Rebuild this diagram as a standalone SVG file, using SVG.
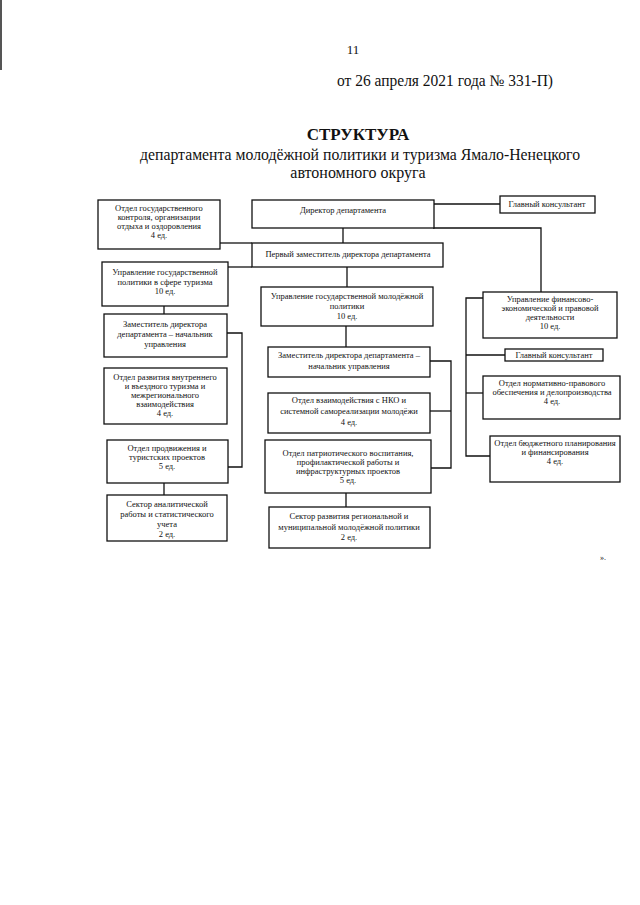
<svg xmlns="http://www.w3.org/2000/svg" width="640" height="905" viewBox="0 0 640 905">
<style>
.box{fill:#fff;stroke:#111;stroke-width:1.3}
.ln{fill:none;stroke:#111;stroke-width:1.3}
.t{font-family:"Liberation Serif","DejaVu Serif",serif;font-size:8.5px;fill:#111;text-anchor:middle}
.h{font-family:"Liberation Serif","DejaVu Serif",serif;fill:#111}
</style>
<rect x="0" y="0" width="640" height="905" fill="#fff"/>
<rect x="0" y="0" width="2" height="70" fill="#555"/>
<g id="header">
<text class="h" x="353" y="54" font-size="13" text-anchor="middle">11</text>
<text class="h" x="337" y="86" font-size="16" textLength="216" lengthAdjust="spacingAndGlyphs">от 26 апреля 2021 года № 331-П)</text>
<text class="h" x="358" y="140" font-size="17" font-weight="bold" text-anchor="middle">СТРУКТУРА</text>
<text class="h" x="360" y="160" font-size="16" text-anchor="middle" textLength="440" lengthAdjust="spacingAndGlyphs">департамента молодёжной политики и туризма Ямало-Ненецкого</text>
<text class="h" x="358" y="178" font-size="16" text-anchor="middle">автономного округа</text>
</g>
<g id="connectors">
<path class="ln" d="M434 204H500"/>
<path class="ln" d="M343 228V243"/>
<path class="ln" d="M220 243H252"/>
<path class="ln" d="M228 267H252"/>
<path class="ln" d="M347 267V287"/>
<path class="ln" d="M433 228H541V292"/>
<path class="ln" d="M164 306V314"/>
<path class="ln" d="M227 333H242V467H228"/>
<path class="ln" d="M164 483V495"/>
<path class="ln" d="M346 326V347"/>
<path class="ln" d="M346 493V507"/>
<path class="ln" d="M430 361H451V468H430"/>
<path class="ln" d="M430 411H451"/>
<path class="ln" d="M483 298H466V456H490"/>
<path class="ln" d="M466 355H505"/>
<path class="ln" d="M466 393H483"/>
</g>
<g id="n_control">
<rect class="box" x="98" y="200" width="122" height="49"/>
<text class="t" x="159" y="211">Отдел государственного</text>
<text class="t" x="159" y="220">контроля, организации</text>
<text class="t" x="159" y="229">отдыха и оздоровления</text>
<text class="t" x="159" y="238">4 ед.</text>
</g>
<g id="n_director">
<rect class="box" x="252" y="200" width="182" height="28"/>
<text class="t" x="343" y="213">Директор департамента</text>
</g>
<g id="n_consult_top">
<rect class="box" x="500" y="196" width="95" height="17"/>
<text class="t" x="547" y="207">Главный консультант</text>
</g>
<g id="n_first_deputy">
<rect class="box" x="252" y="243" width="191" height="24"/>
<text class="t" x="348" y="257">Первый заместитель директора департамента</text>
</g>
<g id="n_tourism_admin">
<rect class="box" x="102" y="262" width="126" height="44"/>
<text class="t" x="165" y="275">Управление государственной</text>
<text class="t" x="165" y="285">политики в сфере туризма</text>
<text class="t" x="165" y="294">10 ед.</text>
</g>
<g id="n_tourism_deputy">
<rect class="box" x="104" y="314" width="123" height="43"/>
<text class="t" x="165" y="327">Заместитель директора</text>
<text class="t" x="165" y="337">департамента – начальник</text>
<text class="t" x="165" y="347">управления</text>
</g>
<g id="n_tourism_dev">
<rect class="box" x="104" y="368" width="123" height="56"/>
<text class="t" x="165" y="380">Отдел развития внутреннего</text>
<text class="t" x="165" y="389">и въездного туризма и</text>
<text class="t" x="165" y="398">межрегионального</text>
<text class="t" x="165" y="407">взаимодействия</text>
<text class="t" x="165" y="416">4 ед.</text>
</g>
<g id="n_tourism_promo">
<rect class="box" x="107" y="440" width="121" height="43"/>
<text class="t" x="167" y="451">Отдел продвижения и</text>
<text class="t" x="167" y="460">туристских проектов</text>
<text class="t" x="167" y="469">5 ед.</text>
</g>
<g id="n_analytics">
<rect class="box" x="107" y="495" width="120" height="46"/>
<text class="t" x="167" y="507">Сектор аналитической</text>
<text class="t" x="167" y="517">работы и статистического</text>
<text class="t" x="167" y="527">учета</text>
<text class="t" x="167" y="537">2 ед.</text>
</g>
<g id="n_youth_admin">
<rect class="box" x="261" y="287" width="172" height="39"/>
<text class="t" x="347" y="299">Управление государственной молодёжной</text>
<text class="t" x="347" y="309">политики</text>
<text class="t" x="347" y="319">10 ед.</text>
</g>
<g id="n_youth_deputy">
<rect class="box" x="268" y="347" width="162" height="30"/>
<text class="t" x="349" y="358">Заместитель директора департамента –</text>
<text class="t" x="349" y="369">начальник управления</text>
</g>
<g id="n_nko">
<rect class="box" x="268" y="393" width="162" height="40"/>
<text class="t" x="349" y="403">Отдел взаимодействия с НКО и</text>
<text class="t" x="349" y="414">системной самореализации молодёжи</text>
<text class="t" x="349" y="425">4 ед.</text>
</g>
<g id="n_patriot">
<rect class="box" x="265" y="440" width="166" height="53"/>
<text class="t" x="348" y="456">Отдел патриотического воспитания,</text>
<text class="t" x="348" y="465">профилактической работы и</text>
<text class="t" x="348" y="474">инфраструктурных проектов</text>
<text class="t" x="348" y="483">5 ед.</text>
</g>
<g id="n_regional">
<rect class="box" x="269" y="507" width="161" height="41"/>
<text class="t" x="349" y="519">Сектор развития региональной и</text>
<text class="t" x="349" y="530">муниципальной молодёжной политики</text>
<text class="t" x="349" y="540">2 ед.</text>
</g>
<g id="n_finance">
<rect class="box" x="483" y="292" width="134" height="46"/>
<text class="t" x="550" y="302">Управление финансово-</text>
<text class="t" x="550" y="311">экономической и правовой</text>
<text class="t" x="550" y="320">деятельности</text>
<text class="t" x="550" y="329">10 ед.</text>
</g>
<g id="n_consult_fin">
<rect class="box" x="505" y="349" width="98" height="12"/>
<text class="t" x="554" y="358">Главный консультант</text>
</g>
<g id="n_legal">
<rect class="box" x="483" y="376" width="137" height="43"/>
<text class="t" x="552" y="386">Отдел нормативно-правового</text>
<text class="t" x="552" y="395">обеспечения и делопроизводства</text>
<text class="t" x="552" y="404">4 ед.</text>
</g>
<g id="n_budget">
<rect class="box" x="490" y="436" width="130" height="46"/>
<text class="t" x="555" y="446">Отдел бюджетного планирования</text>
<text class="t" x="555" y="455">и финансирования</text>
<text class="t" x="555" y="464">4 ед.</text>
</g>
<text class="h" x="600" y="560" font-size="8">».</text>
</svg>
